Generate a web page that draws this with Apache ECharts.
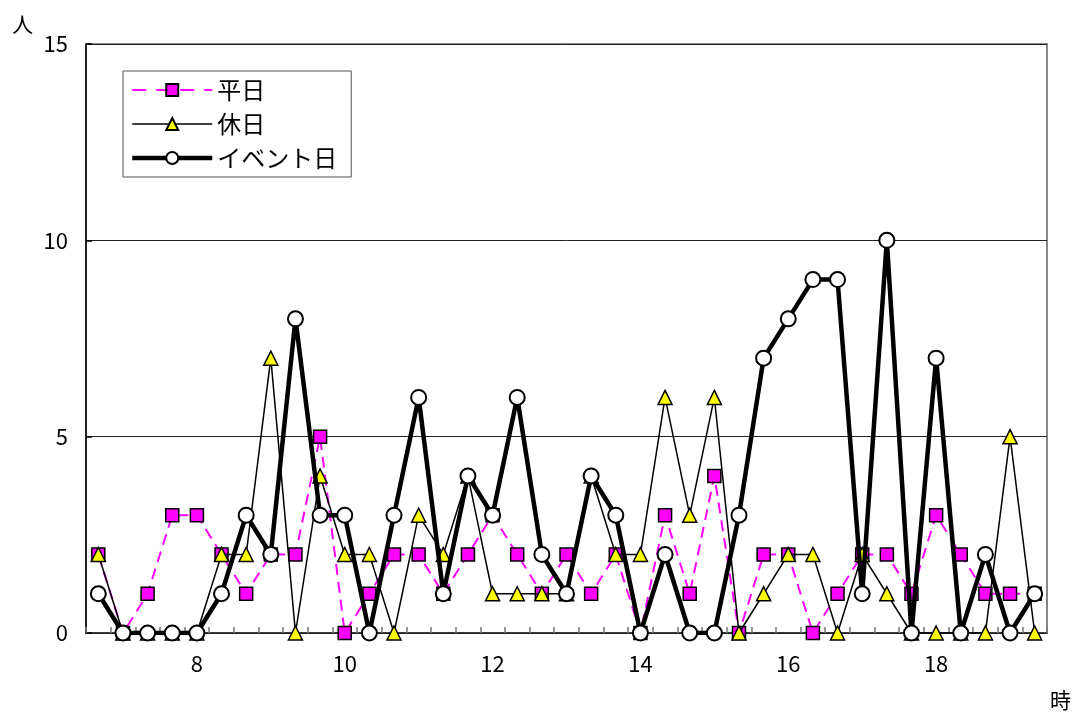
<!DOCTYPE html>
<html>
<head>
<meta charset="utf-8">
<script src="https://cdn.jsdelivr.net/npm/echarts@6/dist/echarts.min.js"></script>
<style>
html,body{margin:0;padding:0;background:#fff;}
#c{width:1076px;height:713px;}
</style>
</head>
<body>
<div id="c"></div>
<script>
const times = ['6:40','7:00','7:20','7:40','8:00','8:20','8:40','9:00','9:20','9:40',
  '10:00','10:20','10:40','11:00','11:20','11:40','12:00','12:20','12:40','13:00',
  '13:20','13:40','14:00','14:20','14:40','15:00','15:20','15:40','16:00','16:20',
  '16:40','17:00','17:20','17:40','18:00','18:20','18:40','19:00','19:20'];
const xTickLabels = ['8','10','12','14','16','18'];
const weekday = [2,0,1,3,3,2,1,2,2,5,0,1,2,2,1,2,3,2,1,2,1,2,0,3,1,4,0,2,2,0,1,2,2,1,3,2,1,1,1];
const holiday = [2,0,0,0,0,2,2,7,0,4,2,2,0,3,2,4,1,1,1,1,4,2,2,6,3,6,0,1,2,2,0,2,1,0,0,0,0,5,0];
const eventDay = [1,0,0,0,0,1,3,2,8,3,3,0,3,6,1,4,3,6,2,1,4,3,0,2,0,0,3,7,8,9,9,1,10,0,7,0,2,0,1];
const yTicks = [0,5,10,15];
const seriesNames = ['平日','休日','イベント日'];

const FONT = '"Noto Sans CJK JP", sans-serif';
const chart = echarts.init(document.getElementById('c'), null, {renderer:'canvas'});
chart.setOption({
  animation:false,
  backgroundColor:'#fff',
  textStyle:{fontFamily:FONT},
  grid:{left:86, top:44, width:961, height:589, show:true, borderColor:'#888', borderWidth:2, backgroundColor:'transparent'},
  graphic:[
    {type:'text', left:12, top:14, style:{text:'人', font:'21px '+FONT, fill:'#000'}},
    {type:'text', left:1050, top:690, style:{text:'時', font:'21px '+FONT, fill:'#000'}}
  ],
  legend:{
    left:123, top:71, orient:'vertical',
    data:[
      {name:seriesNames[0], lineStyle:{width:2, type:[14,10]}},
      {name:seriesNames[1], lineStyle:{width:1.5}},
      {name:seriesNames[2], lineStyle:{width:4.5}}
    ],
    itemWidth:80, itemHeight:15, itemGap:10,
    padding:[7,14,7,7],
    borderColor:'#555', borderWidth:1, backgroundColor:'#fff',
    textStyle:{fontSize:24, color:'#000', fontFamily:FONT}
  },
  xAxis:{
    type:'category', data:times, boundaryGap:true,
    axisLine:{lineStyle:{color:'#222', width:1.5}},
    axisTick:{show:true, inside:true, length:6, interval:0, lineStyle:{color:'#777', width:1.5}},
    axisLabel:{
      interval:function(i, v){ return xTickLabels.indexOf(String(parseInt(v,10)))>=0 && v.endsWith(':00'); },
      formatter:function(v){ return String(parseInt(v,10)); },
      fontSize:22, color:'#000', margin:20, fontFamily:FONT
    },
    splitLine:{show:false}
  },
  yAxis:{
    type:'value', min:0, max:15, interval:5,
    axisLine:{show:true, lineStyle:{color:'#000', width:1.5}},
    axisTick:{show:true, inside:true, length:6, lineStyle:{color:'#000', width:1.5}},
    axisLabel:{fontSize:22, color:'#000', margin:18, fontFamily:FONT,
      formatter:function(v){ return yTicks.indexOf(v)>=0 ? String(v) : ''; }},
    splitLine:{show:true, lineStyle:{color:'#222', width:1}}
  },
  series:[
    {name:seriesNames[0], type:'line', data:weekday,
     symbol:'rect', symbolSize:13,
     lineStyle:{color:'#FF00FF', width:2, type:[11,7]},
     itemStyle:{color:'#FF00FF', borderColor:'#000', borderWidth:1.5},
     z:2},
    {name:seriesNames[1], type:'line', data:holiday,
     symbol:'triangle', symbolSize:14,
     lineStyle:{color:'#000', width:1.5},
     itemStyle:{color:'#FFFF00', borderColor:'#000', borderWidth:1.5},
     z:3},
    {name:seriesNames[2], type:'line', data:eventDay,
     symbol:'circle', symbolSize:15,
     lineStyle:{color:'#000', width:4.5},
     itemStyle:{color:'#fff', borderColor:'#000', borderWidth:2},
     z:4}
  ]
});
</script>
</body>
</html>
